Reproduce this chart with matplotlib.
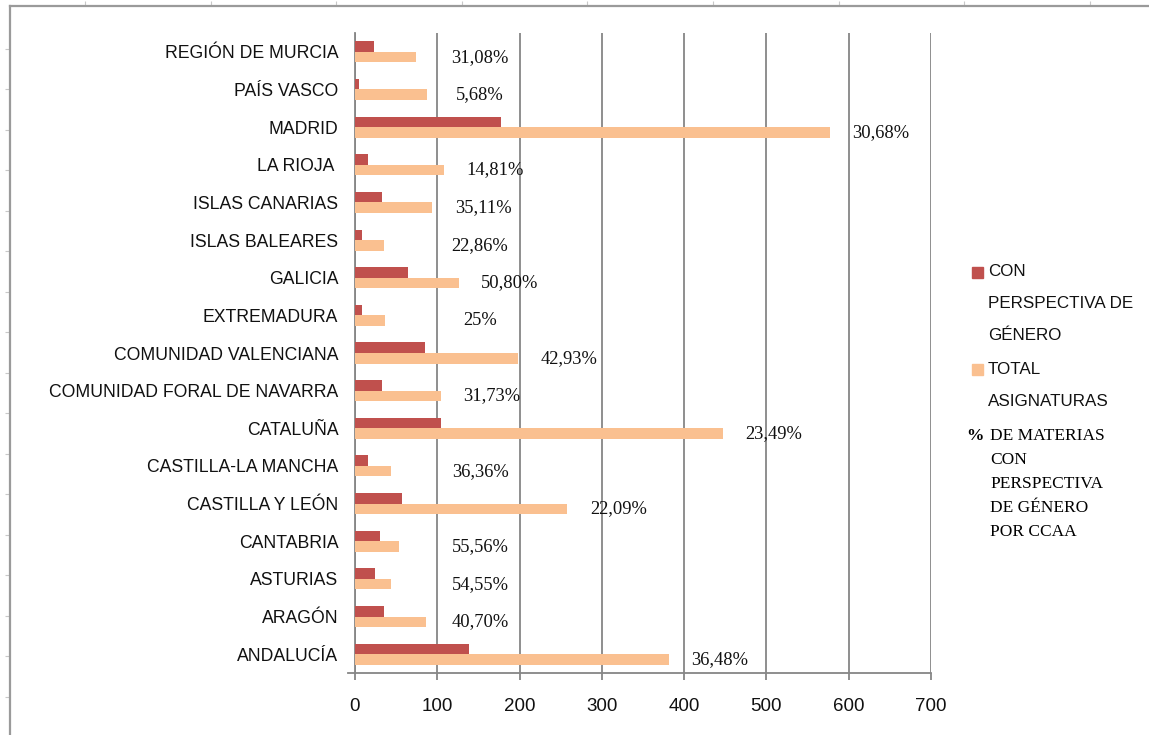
import numpy as np
import matplotlib
matplotlib.use('Agg')
import matplotlib.pyplot as plt
from matplotlib import font_manager
from matplotlib.patches import Rectangle

# data, bottom to top as drawn
regions = ['ANDALUCÍA', 'ARAGÓN', 'ASTURIAS', 'CANTABRIA', 'CASTILLA Y LEÓN',
           'CASTILLA-LA MANCHA', 'CATALUÑA', 'COMUNIDAD FORAL DE NAVARRA',
           'COMUNIDAD VALENCIANA', 'EXTREMADURA', 'GALICIA', 'ISLAS BALEARES',
           'ISLAS CANARIAS', 'LA RIOJA ', 'MADRID', 'PAÍS VASCO', 'REGIÓN DE MURCIA']
con_perspectiva = [139, 35, 24, 30, 57, 16, 105, 33, 85, 9, 64, 8, 33, 16, 177, 5, 23]
total_asignaturas = [381, 86, 44, 54, 258, 44, 447, 104, 198, 36, 126, 35, 94, 108, 577, 88, 74]
pct_labels = ['36,48%', '40,70%', '54,55%', '55,56%', '22,09%', '36,36%', '23,49%', '31,73%',
              '42,93%', '25%', '50,80%', '22,86%', '35,11%', '14,81%', '30,68%', '5,68%', '31,08%']
xticks = [0, 100, 200, 300, 400, 500, 600, 700]

legend_red = ['CON', 'PERSPECTIVA DE', 'GÉNERO']
legend_orange = ['TOTAL', 'ASIGNATURAS']
legend_pct = ['DE MATERIAS', 'CON', 'PERSPECTIVA', 'DE GÉNERO', 'POR CCAA']

RED = '#C0504D'
ORANGE = '#FAC090'
GRID = '#868686'

installed = {f.name for f in font_manager.fontManager.ttflist}
if 'Liberation Sans Narrow' in installed:
    SANS, SANS_SCALE = 'Liberation Sans Narrow', 1.0
else:
    SANS, SANS_SCALE = 'Liberation Sans', 0.845
SERIF = 'Liberation Serif'

W, H = 1149, 735
fig = plt.figure(figsize=(W / 100, H / 100), dpi=100)


def fx(px):
    return px / W


def fy(py):
    return 1 - py / H


# sheet frame with the cell ticks around it
bg = fig.add_axes([fx(10), 0, 1 - fx(10), 1 - 6 / H])
bg.set_xlim(10, W)
bg.set_ylim(H, 6)
for s in ['right', 'bottom']:
    bg.spines[s].set_visible(False)
for s in ['left', 'top']:
    bg.spines[s].set_color('#9a9a9a')
    bg.spines[s].set_linewidth(1.6)
bg.xaxis.tick_top()
bg.set_xticks(np.arange(85, W, 125.6))
bg.set_yticks(np.arange(49, H, 40.5))
bg.tick_params(length=3.5, width=0.8, color='#c8c8c8', labeltop=False, labelleft=False,
               labelbottom=False)
bg.patch.set_alpha(0)

ax = fig.add_axes([fx(355), 62 / H, (931 - 355) / W, 640 / H])
y = np.arange(len(regions))
h = 0.28
ax.barh(y + h / 2, con_perspectiva, height=h, color=RED, zorder=3)
ax.barh(y - h / 2, total_asignaturas, height=h, color=ORANGE, zorder=3)

for yi, tot, lab in zip(y, total_asignaturas, pct_labels):
    ax.text(max(tot + 62, 152), yi - 0.14, lab, ha='center', va='center',
            family=SERIF, fontsize=13.3, color='#111111')

ax.set_xlim(0, 700)
ax.set_ylim(-0.5, len(regions) - 0.5)
ax.set_xticks(xticks)
ax.set_yticks(y, regions)
ax.xaxis.grid(True, color=GRID, linewidth=1.3, zorder=0)
ax.set_axisbelow(True)
for s in ['top', 'right']:
    ax.spines[s].set_visible(False)
ax.spines['left'].set_color(GRID)
ax.spines['bottom'].set_color(GRID)
ax.spines['left'].set_linewidth(1.3)
ax.spines['bottom'].set_linewidth(1.3)
ax.plot([-7 / 576, 0], [0, 0], transform=ax.transAxes, color=GRID, lw=1.3, clip_on=False)
ax.tick_params(axis='y', length=0, pad=12)
ax.tick_params(axis='x', length=5, width=1.3, color=GRID, pad=13)
for t in ax.get_yticklabels():
    t.set_family(SANS)
    t.set_fontsize(15 * SANS_SCALE)
    t.set_color('#111111')
for t in ax.get_xticklabels():
    t.set_family(SANS)
    t.set_fontsize(16 * SANS_SCALE)
    t.set_color('#111111')

# legend drawn by hand so the swatches sit on the first line
fig.patches.append(Rectangle((fx(972), fy(278)), 11 / W, 11 / H, color=RED,
                             transform=fig.transFigure, figure=fig))
for i, line in enumerate(legend_red):
    fig.text(fx(988), fy(272 + 32 * i), line, ha='left', va='center',
             family=SANS, fontsize=14.5 * SANS_SCALE, color='#111111')
fig.patches.append(Rectangle((fx(972), fy(375)), 11 / W, 11 / H, color=ORANGE,
                             transform=fig.transFigure, figure=fig))
for i, line in enumerate(legend_orange):
    fig.text(fx(988), fy(369 + 32 * i), line, ha='left', va='center',
             family=SANS, fontsize=14.5 * SANS_SCALE, color='#111111')
fig.text(fx(966), fy(436), '%', ha='left', va='center', family=SERIF,
         fontsize=12.5, fontweight='bold')
for i, line in enumerate(legend_pct):
    fig.text(fx(990), fy(436 + 24 * i), line, ha='left', va='center',
             family=SERIF, fontsize=12.5)

fig.savefig('out.png', dpi=100)
